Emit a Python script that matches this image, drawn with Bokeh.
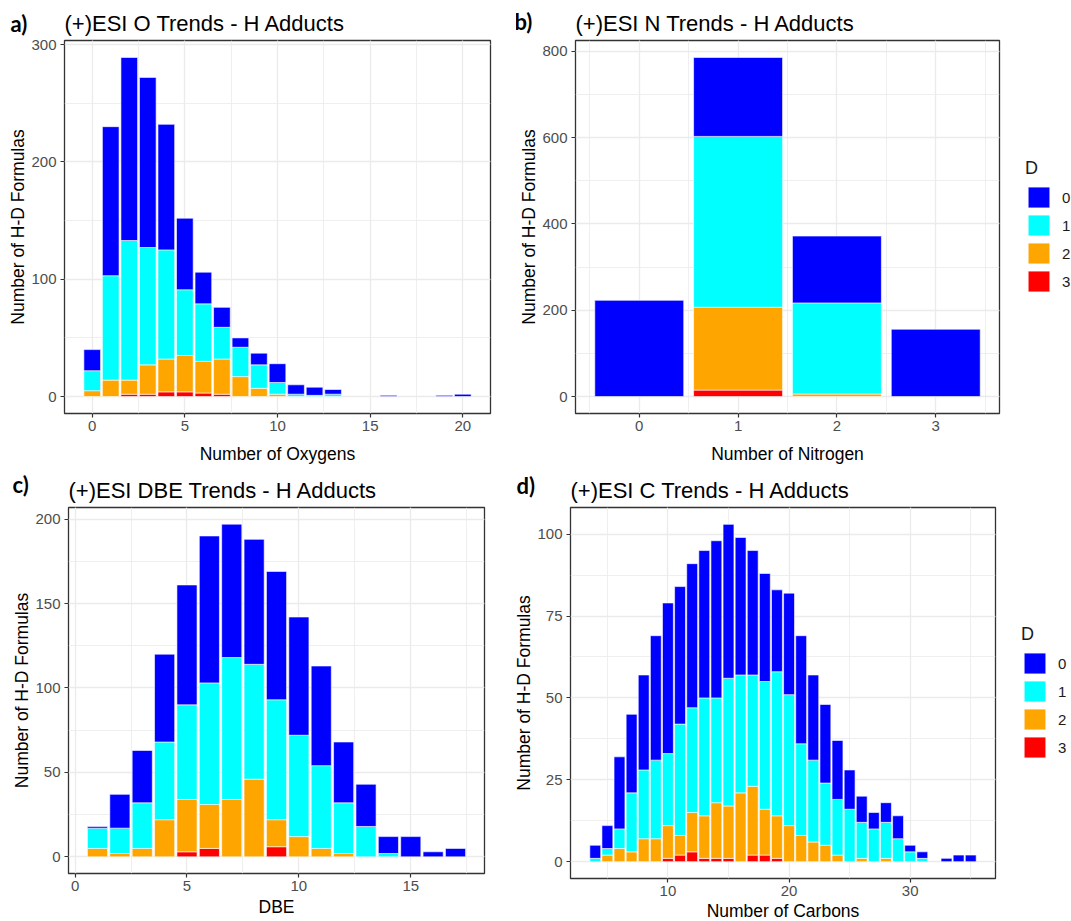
from bokeh.plotting import figure
from bokeh.models import (Label, Legend, LegendItem, SingleIntervalTicker,
                          Range1d, ColumnDataSource)
from bokeh.layouts import row, column
from bokeh.embed import file_html
from bokeh.resources import INLINE
import numpy as np

# ---------------- data ----------------
# a) oxygens
o_x = list(range(0, 21))
o_d0 = [18, 127, 156, 145, 107, 61, 27, 17, 8, 10, 16, 8, 7, 4, 0, 0, 1, 0, 0, 1, 2]
o_d1 = [17, 89, 119, 100, 93, 56, 49, 27, 25, 20, 10, 2, 1, 2, 0, 0, 0, 0, 0, 0, 0]
o_d2 = [5, 14, 12, 25, 28, 31, 27, 30, 17, 7, 2, 0, 0, 0, 0, 0, 0, 0, 0, 0, 0]
o_d3 = [0, 0, 2, 2, 4, 4, 3, 2, 0, 0, 0, 0, 0, 0, 0, 0, 0, 0, 0, 0, 0]

# b) nitrogen
n_x = [0, 1, 2, 3]
n_d0 = [223, 183, 155, 156]
n_d1 = [0, 396, 211, 0]
n_d2 = [0, 192, 6, 0]
n_d3 = [0, 15, 0, 0]

# c) DBE
b_x = list(range(1, 18))
b_d0 = [1, 20, 31, 52, 71, 87, 79, 74, 76, 70, 59, 36, 25, 10, 12, 3, 5]
b_d1 = [12, 15, 27, 46, 56, 72, 84, 68, 71, 60, 49, 30, 18, 2, 0, 0, 0]
b_d2 = [5, 2, 5, 22, 31, 26, 34, 46, 16, 12, 5, 2, 0, 0, 0, 0, 0]
b_d3 = [0, 0, 0, 0, 3, 5, 0, 0, 6, 0, 0, 0, 0, 0, 0, 0, 0]

# d) carbons
c_x = list(range(4, 36))
c_d0 = [4, 7, 22, 24, 29, 38, 46, 42, 44, 45, 48, 47, 42, 38, 33, 25, 31, 33,
        26, 24, 18, 12, 8, 5, 6, 7, 2, 2, 0, 1, 2, 2]
c_d1 = [1, 2, 6, 18, 21, 24, 22, 34, 32, 36, 32, 39, 36, 34, 39, 44, 40, 28,
        25, 19, 17, 16, 11, 10, 11, 7, 3, 1, 0, 0, 0, 0]
c_d2 = [0, 2, 4, 3, 7, 7, 10, 6, 12, 13, 17, 16, 21, 21, 14, 13, 11, 8,
        6, 5, 2, 0, 1, 0, 1, 0, 0, 0, 0, 0, 0, 0]
c_d3 = [0, 0, 0, 0, 0, 0, 1, 2, 3, 1, 1, 1, 0, 2, 2, 1, 0, 0,
        0, 0, 0, 0, 0, 0, 0, 0, 0, 0, 0, 0, 0, 0]

legend_labels = ["0", "1", "2", "3"]
COLORS = {"0": "#0000FF", "1": "#00FFFF", "2": "#FFA500", "3": "#FF0000"}

FONT = "Liberation Sans"
TAGFONT = "Lato"


def panel(tag, title, xlabel, x, d0, d1, d2, d3, xr, yr, xint, yint,
          fw, fh, bl, br, bt, bb, tagxy, xlab_standoff, legend_xy=None):
    p = figure(frame_width=fw, frame_height=fh,
               min_border_left=bl, min_border_right=br,
               min_border_top=bt, min_border_bottom=bb,
               x_range=Range1d(*xr), y_range=Range1d(*yr),
               output_backend="svg", toolbar_location=None, title=title)
    p.title.align = "left"
    p.title.text_font = FONT
    p.title.text_font_size = "22px"
    p.title.text_font_style = "normal"
    p.title.text_color = "#000000"
    p.title.standoff = 10

    p.xaxis.ticker = SingleIntervalTicker(interval=xint, num_minor_ticks=2)
    p.yaxis.ticker = SingleIntervalTicker(interval=yint, num_minor_ticks=2)
    p.xgrid.ticker = p.xaxis.ticker
    p.ygrid.ticker = p.yaxis.ticker

    for g in (p.xgrid, p.ygrid):
        g.grid_line_color = "#EBEBEB"
        g.grid_line_width = 1.3
        g.minor_grid_line_color = "#EBEBEB"
        g.minor_grid_line_width = 0.8

    p.outline_line_color = "#333333"
    p.outline_line_width = 1.3
    p.background_fill_color = "white"
    p.border_fill_color = "white"

    for ax in (p.xaxis, p.yaxis):
        ax.axis_line_color = None
        ax.major_tick_line_color = "#333333"
        ax.major_tick_line_width = 1.2
        ax.major_tick_out = 4
        ax.major_tick_in = 0
        ax.minor_tick_line_color = None
        ax.major_label_text_font = FONT
        ax.major_label_text_font_size = "15px"
        ax.major_label_text_color = "#4D4D4D"
        ax.axis_label_text_font = FONT
        ax.axis_label_text_font_size = "17.5px"
        ax.axis_label_text_font_style = "normal"
        ax.axis_label_text_color = "#000000"
    p.xaxis.major_label_standoff = 3
    p.yaxis.major_label_standoff = 4
    p.xaxis.axis_label = xlabel
    p.yaxis.axis_label = "Number of H-D Formulas"
    p.xaxis.axis_label_standoff = xlab_standoff
    p.yaxis.axis_label_standoff = 0

    xs = np.array(x, float)
    bottom = np.zeros(len(xs))
    rends = {}
    for key, vals in (("3", d3), ("2", d2), ("1", d1), ("0", d0)):
        v = np.array(vals, float)
        top = bottom + v
        m = v > 0
        src = ColumnDataSource(dict(x=xs[m], bottom=bottom[m], top=top[m]))
        rends[key] = p.vbar(x="x", bottom="bottom", top="top", width=0.9,
                            source=src, fill_color=COLORS[key],
                            line_color="white", line_width=0.6)
        bottom = top

    if legend_xy is not None:
        items = [LegendItem(label=k, renderers=[rends[k]]) for k in legend_labels]
        leg = Legend(items=items, title="D", location=legend_xy,
                     glyph_width=27, glyph_height=26, spacing=2,
                     label_standoff=10, label_height=26,
                     label_text_font=FONT, label_text_font_size="15px",
                     label_text_color="#1A1A1A",
                     title_text_font=FONT, title_text_font_size="18px",
                     title_text_font_style="normal", title_text_color="#1A1A1A",
                     title_standoff=5, padding=0, margin=0,
                     border_line_color=None, background_fill_alpha=0)
        p.add_layout(leg, "right")

    # panel tag (drawn from a side panel so it is not clipped by the frame)
    p.add_layout(Label(x=tagxy[0], y=tagxy[1], x_units="screen", y_units="screen",
                       text=tag, text_font=TAGFONT, text_font_style="bold",
                       text_font_size="22px", text_color="#000000",
                       text_baseline="alphabetic"), "right")
    return p


pa = panel("a)", "(+)ESI O Trends - H Adducts", "Number of Oxygens",
           o_x, o_d0, o_d1, o_d2, o_d3, (-1.495, 21.495), (-14.45, 303.45), 5, 100,
           426, 373, 64, 26, 40, 57, (-480, 390), 10)
pb = panel("b)", "(+)ESI N Trends - H Adducts", "Number of Nitrogen",
           n_x, n_d0, n_d1, n_d2, n_d3, (-0.645, 3.645), (-39.3, 825.3), 1, 200,
           424, 373, 59, 72, 40, 57, (-1015, 392), 10, legend_xy=(26, 119))
pc = panel("c)", "(+)ESI DBE Trends - H Adducts", "DBE",
           b_x, b_d0, b_d1, b_d2, b_d3, (-0.295, 18.295), (-9.85, 206.85), 5, 50,
           416, 366, 68, 26, 36, 49, (-472, 389), 3)
pd = panel("d)", "(+)ESI C Trends - H Adducts", "Number of Carbons",
           c_x, c_d0, c_d1, c_d2, c_d3, (1.955, 37.045), (-5.15, 108.15), 10, 25,
           425, 371, 60, 76, 33, 47, (-1009, 393), 2, legend_xy=(26, 118))

layout = column(row(pa, pb), row(pc, pd))
open("out.html", "w").write(file_html(layout, INLINE))
